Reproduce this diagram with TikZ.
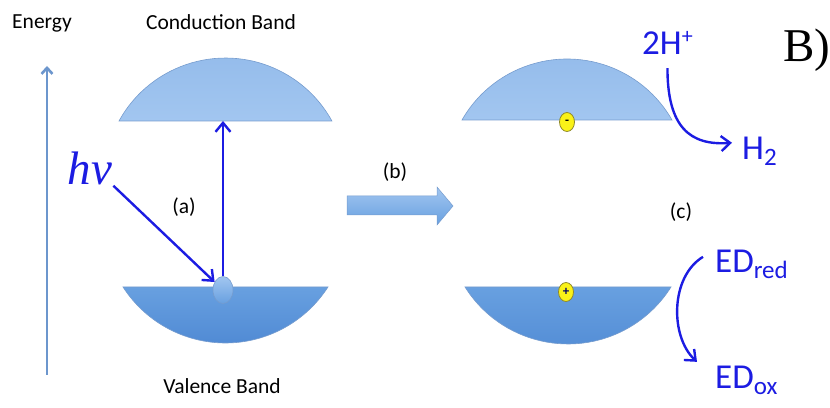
\documentclass[tikz,border=0pt]{standalone}
\usepackage{fontspec}
\setmainfont{Carlito}
\newfontfamily\panelfont{Liberation Serif}
\usetikzlibrary{arrows.meta,shapes.geometric}

\definecolor{lineblue}{RGB}{28,28,226}
\definecolor{axisblue}{RGB}{108,150,205}
\definecolor{cbtop}{RGB}{146,186,234}
\definecolor{cbbot}{RGB}{162,198,240}
\definecolor{vbtop}{RGB}{104,160,224}
\definecolor{vbbot}{RGB}{80,138,212}
\definecolor{bandedge}{RGB}{118,156,206}
\definecolor{dotyellow}{RGB}{250,242,24}

\newcommand{\chemsub}[1]{\raisebox{-6pt}{\fontsize{25}{25}\selectfont #1}}
\newcommand{\chemsup}[1]{\raisebox{11pt}{\fontsize{22}{22}\selectfont #1}}

\begin{document}
\begin{tikzpicture}[x=1pt,y=1pt,
    lbl/.style={inner sep=0pt,font=\fontsize{21.5}{24}\selectfont},
    chem/.style={inner sep=0pt,text=lineblue,font=\fontsize{35}{40}\selectfont},
    cband/.style={draw=bandedge,line width=0.6pt,top color=cbtop,bottom color=cbbot},
    vband/.style={draw=bandedge,line width=0.6pt,top color=vbtop,bottom color=vbbot},
    charge/.style={ellipse,draw=olive!70!gray,line width=0.8pt,fill=dotyellow,minimum width=15pt,minimum height=19pt,inner sep=0pt,font=\bfseries\fontsize{13}{13}\selectfont},
    jump/.style={draw=lineblue,line width=2.4pt,-{Straight Barb[length=9pt,width=15pt]}}]
    \useasboundingbox (0,0) rectangle (830,407);
    \node[lbl,anchor=base] (energy) at (42,378) {Energy};
    \node[lbl,anchor=base] (cbtext) at (221,377) {Conduction Band};
    \node[lbl,anchor=base] (vbtext) at (222,13) {Valence Band};
    \node[lbl] (la) at (184,200) {(a)};
    \node[lbl] (lb) at (395,235) {(b)};
    \node[lbl] (lc) at (681,195) {(c)};
    \coordinate (e0) at (47,32);
    \coordinate (e1) at (47,341);
    \draw[axisblue,line width=2.6pt,-{Straight Barb[length=6pt,width=11pt]}] (e0) -- (e1);
    % bands
    \draw[cband] (119,286) arc[start angle=151.2,end angle=28.8,radius=121.5] -- cycle;
    \draw[vband] (123,120) arc[start angle=212.7,end angle=327.3,radius=121.8] -- cycle;
    \draw[cband] (462,287) arc[start angle=150.3,end angle=29.7,radius=120.9] -- cycle;
    \draw[vband] (465,120) arc[start angle=212.1,end angle=327.9,radius=121.6] -- cycle;
    \coordinate (cbl) at (223,286);
    \node[ellipse,draw=bandedge,line width=0.6pt,top color=cbbot,bottom color=vbtop,minimum width=20pt,minimum height=27pt,inner sep=0pt] (hole) at (223,117) {};
    \node[text=lineblue,inner sep=1pt,font=\panelfont\itshape\fontsize{47}{50}\selectfont] (hnu) at (90,239) {hν};
    \draw[jump] (hnu.south east) -- (hole);
    \draw[jump] (hole) -- (hole |- cbl);
    \draw[draw=bandedge,line width=0.5pt,top color=cbbot,bottom color=vbtop] (347,192) -- (437,192) -- (437,182) -- (453,201) -- (437,220) -- (437,211) -- (347,211) -- cycle;
    \node[charge] (minus) at (567,285) {-};
    \node[charge,text=blue!40!black] (plus) at (566,115) {+};
    \node[chem,anchor=base west] (hplus) at (642,352) {2H\chemsup{+}};
    \node[chem,anchor=base west] (htwo) at (742,247) {H\chemsub{2}};
    \node[chem,anchor=base west] (edred) at (715,134) {ED\chemsub{red}};
    \node[chem,anchor=base west] (edox) at (715,19) {ED\chemsub{ox}};
    \node[anchor=base west,inner sep=0pt,font=\panelfont\fontsize{47}{50}\selectfont] (panel) at (783,345) {B)};
    \draw[jump] ([yshift=-13pt]hplus.south) .. controls +(0,-59) and +(-42,-3) .. ([xshift=-10pt,yshift=9pt]htwo.west);
    \draw[jump] ([xshift=-12pt,yshift=8pt]edred.west) .. controls +(-33,-20) and +(-27,25) .. ([xshift=-18pt,yshift=18pt]edox.west);
\end{tikzpicture}
\end{document}
